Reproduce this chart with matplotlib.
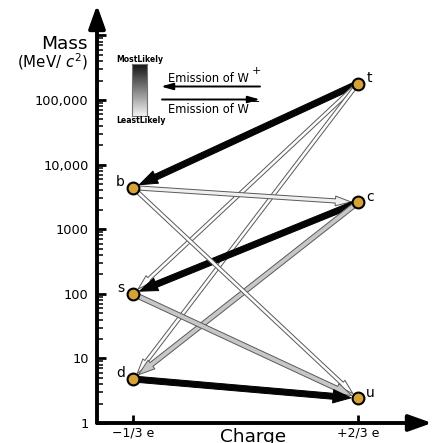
import numpy as np
import matplotlib
matplotlib.use("Agg")
import matplotlib.pyplot as plt
from matplotlib.patches import FancyArrowPatch
from matplotlib.ticker import FixedLocator, NullFormatter

# quarks: name, electric charge (e), mass (MeV/c^2)
quark_names = ["u", "d", "c", "s", "t", "b"]
quark_charges = [2/3, -1/3, 2/3, -1/3, 2/3, -1/3]
quark_masses = [2.4, 4.8, 2600, 100, 180000, 4400]

# weak transitions source -> target, likelihood read from the arrow shading
arrow_sources = ["t", "t", "t", "b", "c", "c", "b", "s", "d"]
arrow_targets = ["b", "s", "d", "c", "s", "d", "u", "u", "u"]
arrow_likelihood = [0.98, 0.01, 0.01, 0.06, 0.98, 0.22, 0.01, 0.22, 0.98]

charge_ticks = [-1/3, 2/3]
charge_labels = ["\u22121/3 e", "+2/3 e"]
mass_ticks = [1, 10, 100, 1000, 10000, 100000, 1000000]
mass_labels = ["1", "10", "100", "1000", "10,000", "100,000", ""]

W, H = 436, 443


def fpx(x, y):
    # pixel position (from top left) -> figure fraction
    return x / W, 1 - y / H


fig = plt.figure(figsize=(W / 100, H / 100), dpi=100)
ax = fig.add_axes([97 / W, 1 - 423 / H, (432 - 97) / W, (423 - 5) / H])
ax.set_yscale("log")
for sp in ax.spines.values():
    sp.set_visible(False)

# axis lines with arrow heads
for end in [(0, 1), (1, 0)]:
    ax.add_patch(FancyArrowPatch((0, 0), end, transform=ax.transAxes,
                                 arrowstyle="-|>,head_length=14,head_width=5",
                                 mutation_scale=1, lw=2.8, color="black",
                                 shrinkA=0, shrinkB=0, clip_on=False, zorder=5))

# ticks
ax.set_yticks(mass_ticks)
ax.set_yticklabels(mass_labels)
minor = [m * 10 ** k for k in range(6) for m in range(2, 10)]
ax.yaxis.set_minor_locator(FixedLocator(minor))
ax.yaxis.set_minor_formatter(NullFormatter())
ax.tick_params(axis="y", which="major", direction="in", length=6.5, width=2,
               pad=6, labelsize=9.3)
ax.tick_params(axis="y", which="minor", direction="in", length=4, width=1.1)
ax.set_xticks(charge_ticks)
ax.set_xticklabels(charge_labels)
ax.tick_params(axis="x", direction="in", length=6, width=2, pad=2.5,
               labelsize=9)

# transition arrows
pos = {n: (q, m) for n, q, m in zip(quark_names, quark_charges, quark_masses)}
for src, dst, p in zip(arrow_sources, arrow_targets, arrow_likelihood):
    k = p ** 0.3
    tail = 2.0 + 2.3 * k
    head_len = 10 + 3 * k
    head_w = tail * 2.0 + 1.0
    style = f"simple,head_length={head_len:.2f},head_width={head_w:.2f},tail_width={tail:.2f}"
    edge = "black" if p > 0.5 else "0.35"
    ax.add_patch(FancyArrowPatch(pos[src], pos[dst], arrowstyle=style,
                                 mutation_scale=1, fc=str(1 - p), ec=edge,
                                 lw=0.7, shrinkA=0, shrinkB=5, zorder=3))

# quarks
ax.scatter(quark_charges, quark_masses, s=72, c="#d6a236",
           edgecolors="black", linewidths=1.5, zorder=4)
for n, q, m in zip(quark_names, quark_charges, quark_masses):
    if q > 0:
        ax.annotate(n, (q, m), xytext=(6, 4), textcoords="offset points",
                    ha="left", va="center", fontsize=10)
    else:
        ax.annotate(n, (q, m), xytext=(-6, 4), textcoords="offset points",
                    ha="right", va="center", fontsize=10)

ax.set_xlim(-0.4934, 0.9956)
ax.set_ylim(1, 2.96e6)

# axis titles
fig.text(*fpx(88, 49), "Mass", fontsize=13.3, ha="right", va="baseline")
fig.text(*fpx(88, 68), "(MeV/ $c^2$)", fontsize=10.8, ha="right", va="baseline")
fig.text(*fpx(253, 442), "Charge", fontsize=13.3, ha="center", va="baseline")

# likelihood legend
cax = fig.add_axes([132 / W, 1 - 116 / H, 15 / W, 52 / H])
cax.imshow(np.linspace(0.08, 0.95, 64)[:, None], cmap="gray", vmin=0, vmax=1,
           aspect="auto")
cax.set_xticks([])
cax.set_yticks([])
for sp in cax.spines.values():
    sp.set_color("0.45")
    sp.set_linewidth(0.8)
fig.text(*fpx(140, 60), "MostLikely", fontsize=5.6, fontweight="bold",
         ha="center", va="center")
fig.text(*fpx(141, 121), "LeastLikely", fontsize=5.6, fontweight="bold",
         ha="center", va="center")

# emission legend
for a, b in [((260, 86.5), (161, 86.5)), ((162, 99.5), (260, 99.5))]:
    fig.add_artist(FancyArrowPatch(fpx(*a), fpx(*b), transform=fig.transFigure,
                                   arrowstyle="-|>,head_length=7,head_width=2",
                                   mutation_scale=1, lw=1.4, color="black",
                                   shrinkA=0, shrinkB=0))
fig.text(*fpx(168, 82), "Emission of W", fontsize=8.3, va="baseline")
fig.text(*fpx(256, 71), "+", fontsize=8, ha="center", va="center")
fig.text(*fpx(168, 113), "Emission of W", fontsize=8.3, va="baseline")
fig.text(*fpx(256, 102.5), "\u2212", fontsize=8, ha="center", va="center")

fig.savefig("out.png", dpi=100)
